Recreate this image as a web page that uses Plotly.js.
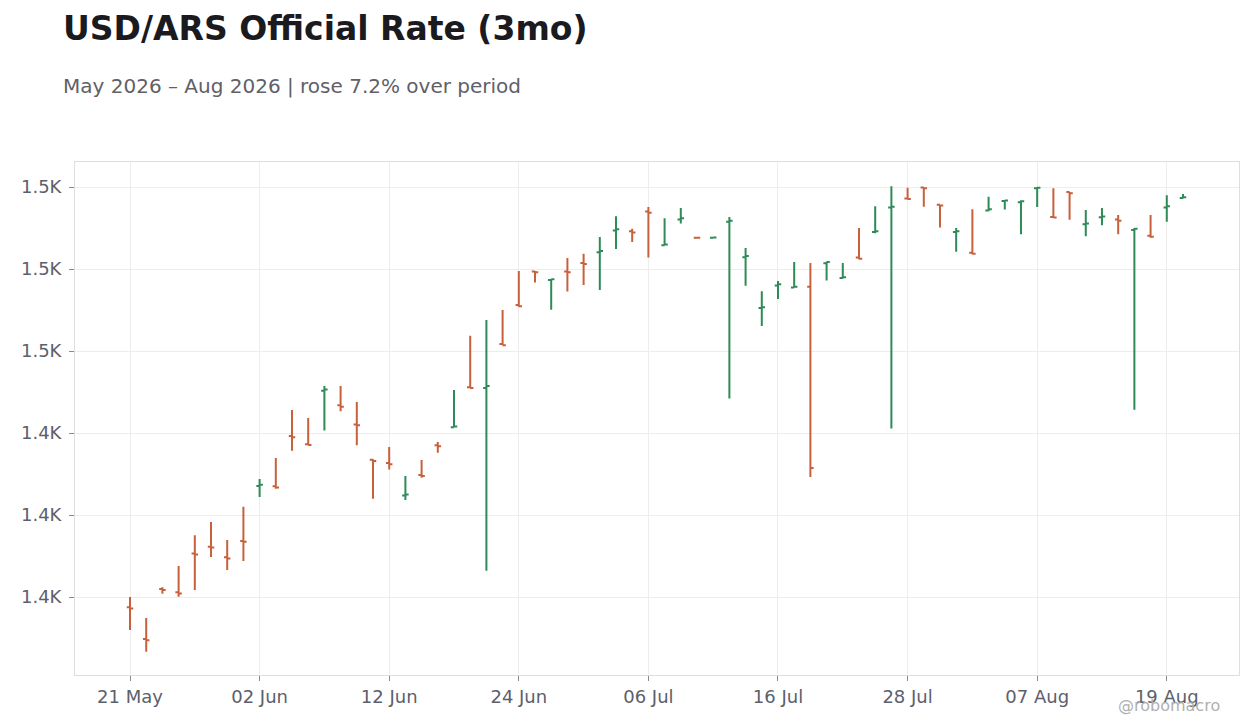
<!DOCTYPE html>
<html>
<head>
<meta charset="utf-8">
<script src="https://cdn.plot.ly/plotly-3.0.1.min.js"></script>
<style>
html,body{margin:0;padding:0;background:#fff;}
#chart{width:1260px;height:728px;}
</style>
</head>
<body>
<div id="chart"></div>
<script>
const dates = [
 '2026-05-21','2026-05-22','2026-05-25','2026-05-26','2026-05-27','2026-05-28','2026-05-29',
 '2026-06-01','2026-06-02','2026-06-03','2026-06-04','2026-06-05',
 '2026-06-08','2026-06-09','2026-06-10','2026-06-11','2026-06-12',
 '2026-06-15','2026-06-16','2026-06-17','2026-06-18','2026-06-19',
 '2026-06-22','2026-06-23','2026-06-24','2026-06-25','2026-06-26',
 '2026-06-29','2026-06-30','2026-07-01','2026-07-02','2026-07-03',
 '2026-07-06','2026-07-07','2026-07-08','2026-07-09','2026-07-10',
 '2026-07-13','2026-07-14','2026-07-15','2026-07-16','2026-07-17',
 '2026-07-20','2026-07-21','2026-07-22','2026-07-23','2026-07-24',
 '2026-07-27','2026-07-28','2026-07-29','2026-07-30','2026-07-31',
 '2026-08-03','2026-08-04','2026-08-05','2026-08-06','2026-08-07',
 '2026-08-10','2026-08-11','2026-08-12','2026-08-13','2026-08-14',
 '2026-08-17','2026-08-18','2026-08-19','2026-08-20'
];
const openVals = [
 1397.5,1389.8,1402.0,1401.2,1410.6,1412.3,1409.7,
 1413.7,1427.1,1427.0,1439.3,1437.3,
 1450.3,1446.8,1442.1,1433.5,1432.7,
 1424.8,1429.8,1437.0,1441.4,1451.2,
 1451.0,1461.7,1471.2,1479.4,1477.3,
 1479.4,1481.5,1484.1,1489.4,1489.2,
 1494.0,1485.8,1492.1,1487.6,1487.6,
 1491.5,1482.9,1470.5,1476.0,1475.5,
 1475.7,1481.4,1477.8,1482.8,1489.0,
 1495.0,1497.2,1499.9,1495.7,1489.0,
 1484.0,1494.3,1496.6,1496.3,1499.7,
 1492.7,1498.8,1490.9,1492.6,1492.1,
 1489.5,1488.1,1495.0,1497.3
];
const highVals = [
 1400.0,1394.9,1402.4,1407.6,1415.1,1418.3,1413.9,
 1422.0,1428.8,1433.9,1445.6,1443.7,
 1451.5,1451.5,1447.6,1433.6,1436.6,
 1429.5,1433.4,1437.8,1450.5,1463.7,
 1467.6,1470.0,1479.5,1479.5,1477.5,
 1482.7,1483.7,1487.8,1492.9,1489.8,
 1495.1,1492.4,1494.9,1487.6,1487.7,
 1492.7,1485.1,1474.6,1477.1,1481.7,
 1481.5,1481.8,1481.5,1490.0,1495.3,
 1500.2,1499.8,1499.9,1495.7,1490.0,
 1494.6,1497.6,1496.8,1496.8,1500.0,
 1499.7,1498.8,1494.4,1494.9,1493.2,
 1490.0,1493.2,1498.0,1498.3
];
const lowVals = [
 1392.0,1386.7,1400.8,1400.1,1401.7,1409.8,1406.6,
 1408.8,1424.4,1426.4,1435.7,1437.0,
 1440.6,1445.3,1437.0,1424.0,1431.1,
 1423.7,1429.1,1435.2,1441.4,1451.0,
 1406.4,1461.4,1470.8,1476.7,1470.1,
 1474.5,1476.1,1474.9,1484.9,1486.6,
 1482.8,1485.8,1491.1,1487.6,1487.6,
 1448.4,1475.9,1466.1,1472.7,1475.5,
 1429.3,1477.2,1477.7,1482.4,1488.7,
 1441.1,1497.1,1495.2,1490.1,1484.2,
 1483.6,1494.1,1494.5,1488.5,1495.1,
 1492.5,1492.0,1488.0,1490.7,1488.5,
 1445.7,1487.6,1491.5,1497.2
];
const closeVals = [
 1397.2,1389.5,1401.7,1400.9,1410.4,1412.1,1409.4,
 1413.5,1427.4,1426.7,1439.0,1437.1,
 1450.6,1446.4,1441.9,1433.2,1432.4,
 1425.0,1429.5,1436.8,1441.6,1451.0,
 1451.5,1461.4,1470.9,1479.2,1477.5,
 1479.2,1481.2,1484.4,1489.7,1488.9,
 1493.7,1486.0,1492.4,1487.6,1487.7,
 1491.8,1483.2,1470.7,1476.3,1475.7,
 1431.5,1481.7,1478.0,1482.5,1489.2,
 1495.2,1497.1,1499.7,1495.5,1489.2,
 1483.7,1494.6,1496.7,1496.5,1499.85,
 1492.55,1498.5,1491.1,1492.8,1491.8,
 1489.8,1487.9,1495.3,1497.5
];
const xTickVals = ['2026-05-21','2026-06-02','2026-06-12','2026-06-24','2026-07-06','2026-07-16','2026-07-28','2026-08-07','2026-08-19'];
const yTickVals = [1400,1420,1440,1460,1480,1500];
const yTickText = ['1.4K','1.4K','1.4K','1.5K','1.5K','1.5K'];

const trace = {
  type: 'ohlc',
  x: dates, open: openVals, high: highVals, low: lowVals, close: closeVals,
  increasing: {line: {color: '#2e8b57', width: 2}},
  decreasing: {line: {color: '#c8603c', width: 2}},
  tickwidth: 0.2,
  hoverinfo: 'skip'
};

const tickFont = {family: 'DejaVu Sans, sans-serif', size: 18, color: '#5c606c'};

const layout = {
  width: 1260, height: 728,
  paper_bgcolor: '#ffffff', plot_bgcolor: '#ffffff',
  margin: {l: 75, r: 21, t: 162, b: 53},
  showlegend: false,
  title: {
    text: '<b>USD/ARS Official Rate (3mo)</b>',
    font: {family: 'DejaVu Sans, sans-serif', size: 33, color: '#1a1a1f'},
    x: 0.05, xref: 'container', xanchor: 'left',
    y: 0.977, yref: 'container', yanchor: 'top'
  },
  xaxis: {
    type: 'date',
    range: ['2026-05-15 14:30', '2026-08-25 11:00'],
    rangebreaks: [{bounds: ['sat', 'mon']}],
    rangeslider: {visible: false},
    tickvals: xTickVals,
    tickformat: '%d %b',
    tickfont: tickFont,
    ticks: 'outside', ticklen: 5, tickcolor: '#8a8a8a',
    ticklabelstandoff: 0,
    showgrid: true, gridcolor: '#ededed',
    showline: true, linecolor: '#dedede', mirror: true,
    zeroline: false
  },
  yaxis: {
    range: [1381, 1506.1],
    tickvals: yTickVals,
    ticktext: yTickText,
    tickfont: tickFont,
    ticks: 'outside', ticklen: 5, tickcolor: '#8a8a8a',
    ticklabelstandoff: 4,
    showgrid: true, gridcolor: '#ededed',
    showline: true, linecolor: '#dedede', mirror: true,
    zeroline: false
  },
  annotations: [
    {
      text: 'May 2026 – Aug 2026 | rose 7.2% over period',
      xref: 'paper', yref: 'paper',
      x: -0.012, xanchor: 'left',
      y: 1.1755, yanchor: 'top',
      showarrow: false,
      font: {family: 'DejaVu Sans, sans-serif', size: 20, color: '#5f6068'}
    },
    {
      text: '@robomacro',
      xref: 'paper', yref: 'paper',
      x: 0.9854, xanchor: 'right',
      y: -0.0585, yanchor: 'middle',
      showarrow: false,
      font: {family: 'DejaVu Sans, sans-serif', size: 16, color: '#b0b0b0'}
    }
  ]
};

Plotly.newPlot('chart', [trace], layout, {displayModeBar: false, staticPlot: true});
</script>
</body>
</html>
